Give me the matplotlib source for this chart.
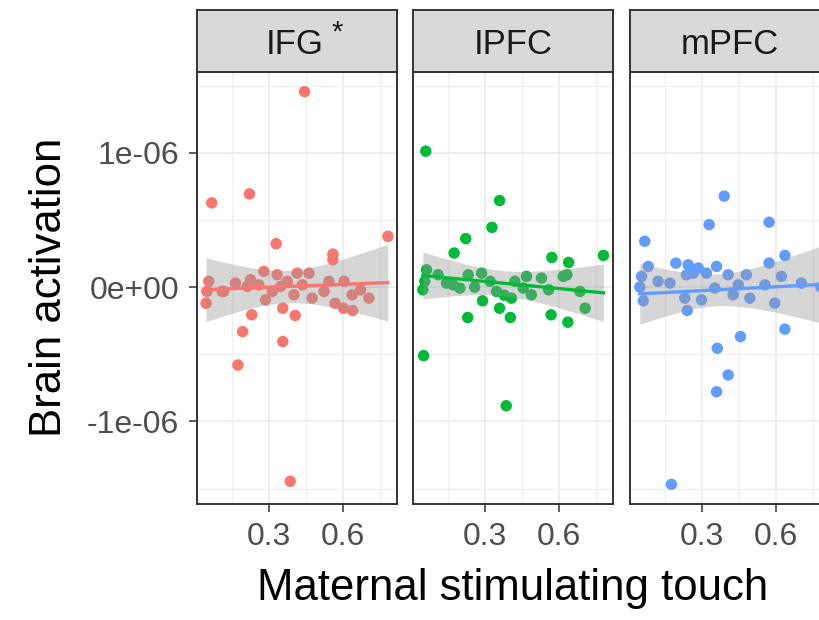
import numpy as np
import matplotlib
matplotlib.use("Agg")
import matplotlib.pyplot as plt
from matplotlib.ticker import FixedLocator

plt.rcParams['font.family'] = ['Liberation Sans', 'DejaVu Sans']

# datos (y en unidades de 1e-06)
regions = ['IFG', 'IPFC', 'mPFC']
colors = ['#F8766D', '#00BA38', '#619CFF']

ifg_x = [0.446, 0.070, 0.223, 0.784, 0.331, 0.561, 0.561, 0.047, 0.232, 0.195,
         0.358, 0.408, 0.358, 0.176, 0.388, 0.570, 0.604, 0.641,
         0.058, 0.050, 0.112, 0.166, 0.227, 0.281, 0.261, 0.288, 0.335, 0.349,
         0.376, 0.416, 0.437, 0.464, 0.477, 0.525, 0.545, 0.606, 0.639, 0.673,
         0.707, 0.403, 0.315, 0.214, 0.118]
ifg_y = [1.455, 0.627, 0.694, 0.378, 0.323, 0.246, 0.204, -0.120, -0.206, -0.331,
         -0.157, -0.211, -0.405, -0.580, -1.445, -0.120, -0.157, -0.174,
         0.043, -0.032, -0.032, 0.030, 0.055, 0.117, 0.017, -0.095, 0.092, 0.005,
         0.043, 0.104, 0.017, 0.104, -0.082, -0.032, 0.043, 0.043, -0.057, -0.020,
         -0.082, -0.057, -0.032, 0.005, -0.032]

ipfc_x = [0.062, 0.361, 0.330, 0.224, 0.177, 0.573, 0.641, 0.782, 0.053, 0.388,
          0.232, 0.405, 0.570, 0.638, 0.708, 0.292, 0.361, 0.634,
          0.065, 0.058, 0.112, 0.173, 0.234, 0.288, 0.349, 0.409, 0.423, 0.470,
          0.490, 0.531, 0.619, 0.687, 0.200, 0.146, 0.323, 0.457, 0.050, 0.260,
          0.380, 0.560]
ipfc_y = [1.012, 0.644, 0.445, 0.361, 0.254, 0.221, 0.184, 0.236, -0.510, -0.883,
          -0.226, -0.226, -0.206, -0.261, -0.157, -0.102, -0.157, 0.092,
          0.129, 0.043, 0.092, 0.017, 0.092, 0.104, -0.032, -0.082, 0.043, 0.080,
          -0.057, 0.067, 0.080, -0.032, -0.007, 0.030, 0.043, -0.007, -0.020, 0.000,
          -0.060, -0.020]

mpfc_x = [0.392, 0.331, 0.574, 0.070, 0.084, 0.196, 0.638, 0.574, 0.242, 0.638,
          0.458, 0.364, 0.408, 0.361, 0.178, 0.064,
          0.057, 0.124, 0.172, 0.246, 0.239, 0.266, 0.287, 0.232, 0.300, 0.320,
          0.361, 0.408, 0.428, 0.482, 0.496, 0.624, 0.597, 0.557, 0.705, 0.354,
          0.449, 0.784, 0.050]
mpfc_y = [0.677, 0.465, 0.483, 0.341, 0.154, 0.179, 0.236, 0.179, -0.174, -0.313,
          -0.368, -0.455, -0.654, -0.779, -1.468, -0.102,
          0.080, 0.043, 0.030, 0.166, 0.092, 0.104, 0.142, -0.082, -0.095, 0.104,
          0.154, 0.092, -0.057, 0.092, -0.082, 0.080, -0.119, 0.017, 0.030, -0.007,
          0.017, 0.000, 0.000]

xs = [ifg_x, ipfc_x, mpfc_x]
ys = [ifg_y, ipfc_y, mpfc_y]

y_ticks = [-1e-6, 0, 1e-6]
y_labels = ['-1e-06', '0e+00', '1e-06']
x_ticks = [0.3, 0.6]
x_labels = ['0.3', '0.6']

T_CRIT = 2.02  # t de Student aprox. para ~40 observaciones


def limites(valores):
    lo, hi = min(valores), max(valores)
    r = hi - lo
    return lo - 0.05 * r, hi + 0.05 * r


# limites compartidos como en facet_wrap
todos_x = [v for serie in xs for v in serie]
todos_y = [v * 1e-6 for serie in ys for v in serie]
xlim = limites(todos_x)
ylim = limites(todos_y)

fig = plt.figure(figsize=(8.2, 6.2), dpi=100)
W, H = 820, 620
lefts = [197, 413, 630]
pw, top, bottom, strip_top = 200, 72, 504, 10

for i in range(3):
    x = np.array(xs[i])
    y = np.array(ys[i]) * 1e-6
    ax = fig.add_axes([lefts[i] / W, 1 - bottom / H, pw / W, (bottom - top) / H])
    ax.scatter(x, y, s=68, color=colors[i], edgecolors='none', zorder=3)

    # regresion lineal con intervalo de confianza (como geom_smooth(method='lm'))
    b1, b0 = np.polyfit(x, y, 1)
    n = len(x)
    resid = y - (b0 + b1 * x)
    s = np.sqrt(np.sum(resid ** 2) / (n - 2))
    xg = np.linspace(x.min(), x.max(), 80)
    se = s * np.sqrt(1 / n + (xg - x.mean()) ** 2 / np.sum((x - x.mean()) ** 2))
    yg = b0 + b1 * xg
    ax.fill_between(xg, yg - T_CRIT * se, yg + T_CRIT * se, color='#999999',
                    alpha=0.4, linewidth=0, zorder=4)
    ax.plot(xg, yg, color=colors[i], lw=2.4, zorder=5)

    ax.set_xlim(xlim)
    ax.set_ylim(ylim)
    ax.xaxis.set_major_locator(FixedLocator(x_ticks))
    ax.xaxis.set_minor_locator(FixedLocator([0.15, 0.45, 0.75]))
    ax.yaxis.set_major_locator(FixedLocator(y_ticks))
    ax.yaxis.set_minor_locator(FixedLocator([-1.5e-6, -0.5e-6, 0.5e-6, 1.5e-6]))
    ax.set_xticklabels(x_labels)
    ax.grid(which='major', color='#EBEBEB', lw=1.2, zorder=0)
    ax.grid(which='minor', color='#EFEFEF', lw=0.9, zorder=0)
    ax.set_axisbelow(True)
    ax.tick_params(which='minor', length=0)
    ax.tick_params(which='major', length=6, width=1.1, color='#333333',
                   labelsize=23, labelcolor='#4D4D4D', pad=7)
    if i == 0:
        ax.set_yticklabels(y_labels)
    else:
        ax.tick_params(axis='y', labelleft=False, length=0)
    for sp in ax.spines.values():
        sp.set_color('#333333')
        sp.set_linewidth(1.4)

    # cabecera del panel
    st = fig.add_axes([lefts[i] / W, 1 - top / H, pw / W, (top - strip_top) / H])
    st.set_facecolor('#D9D9D9')
    st.set_xticks([])
    st.set_yticks([])
    for sp in st.spines.values():
        sp.set_color('#333333')
        sp.set_linewidth(1.4)
    if i == 0:
        st.text(0.4875, 0.45, regions[i], ha='center', va='center',
                fontsize=25, color='#1A1A1A', transform=st.transAxes)
        st.text(0.70, 0.64, '*', ha='center', va='center',
                fontsize=21, color='#1A1A1A', transform=st.transAxes)
    else:
        st.text(0.5, 0.45, regions[i], ha='center', va='center',
                fontsize=25, color='#1A1A1A', transform=st.transAxes)

fig.text(513 / W, 1 - 600 / H, 'Maternal stimulating touch', ha='center',
         va='baseline', fontsize=31.5)
fig.text(50 / W, 1 - 287 / H, 'Brain activation', ha='center', va='center',
         rotation=90, fontsize=31.5)

fig.savefig('out.png', dpi=100)
